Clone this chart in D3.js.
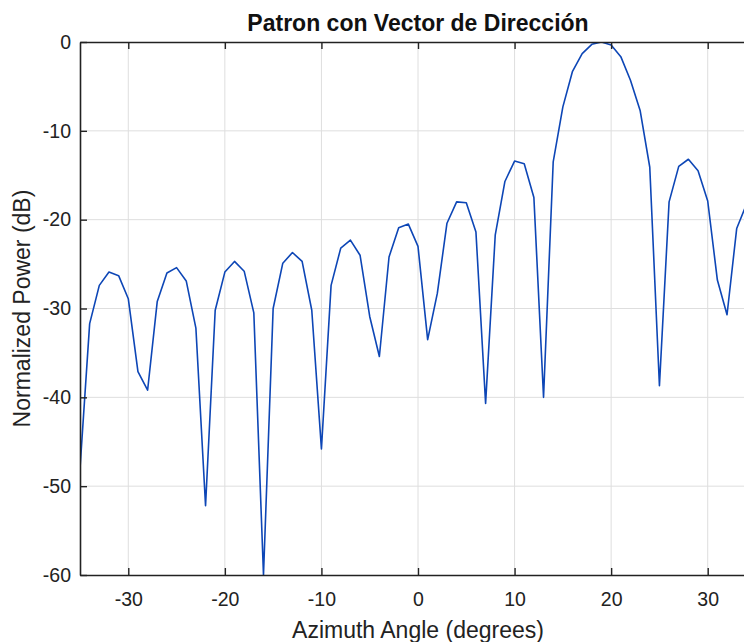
<!DOCTYPE html>
<html>
<head>
<meta charset="utf-8">
<script src="https://cdn.jsdelivr.net/npm/d3@7"></script>
<style>
  body { margin: 0; background: #fff; }
  svg { display: block; font-family: "Liberation Sans", Arial, sans-serif; }
</style>
</head>
<body>
<div id="chart"></div>
<script>
// angulos en grados (paso de 1)
const angulos = d3.range(-35, 36);
// potencia normalizada (dB)
const potencia = [
  -48.0, -31.7, -27.4, -25.9, -26.3, -28.9, -37.1, -39.2, -29.2, -26.0,
  -25.4, -26.9, -32.2, -52.2, -30.2, -25.9, -24.7, -25.8, -30.5, -60.0,
  -30.0, -24.9, -23.7, -24.7, -30.2, -45.8, -27.4, -23.2, -22.3, -24.0,
  -30.9, -35.4, -24.2, -20.9, -20.5, -23.0, -33.5, -28.3, -20.4, -18.0,
  -18.1, -21.4, -40.7, -21.7, -15.7, -13.4, -13.7, -17.5, -40.0, -13.5,
  -7.3, -3.3, -1.3, -0.26, 0.0, -0.34, -1.65, -4.3, -7.7, -14.1,
  -38.7, -18.0, -14.0, -13.2, -14.5, -17.9, -26.8, -30.7, -21.0, -18.3,
  -16.8
];
const xTicks = [-30, -20, -10, 0, 10, 20, 30];
const yTicks = [0, -10, -20, -30, -40, -50, -60];

const width = 744, height = 642;
const margin = { top: 42, left: 80, bottom: 67, right: -12 };
const innerW = width - margin.left - margin.right;
const innerH = height - margin.top - margin.bottom;

const svg = d3.select('#chart').append('svg')
  .attr('width', width)
  .attr('height', height);

const x = d3.scaleLinear().domain([-35, 35]).range([margin.left, margin.left + innerW]);
const y = d3.scaleLinear().domain([-60, 0]).range([margin.top + innerH, margin.top]);

// con guion normal, como en la figura
const fmt = d => String(d);

// grid
svg.append('g').selectAll('line')
  .data(xTicks).join('line')
  .attr('x1', d => x(d)).attr('x2', d => x(d))
  .attr('y1', margin.top).attr('y2', margin.top + innerH)
  .attr('stroke', '#dedede').attr('stroke-width', 1);
svg.append('g').selectAll('line')
  .data(yTicks.slice(1, -1)).join('line')
  .attr('x1', margin.left).attr('x2', margin.left + innerW)
  .attr('y1', d => y(d)).attr('y2', d => y(d))
  .attr('stroke', '#dedede').attr('stroke-width', 1);

// curva
const clipId = 'clipPlot';
svg.append('clipPath').attr('id', clipId).append('rect')
  .attr('x', margin.left).attr('y', margin.top)
  .attr('width', innerW).attr('height', innerH);

const line = d3.line()
  .x((d, i) => x(angulos[i]))
  .y(d => y(d));

svg.append('path')
  .datum(potencia)
  .attr('clip-path', `url(#${clipId})`)
  .attr('fill', 'none')
  .attr('stroke', '#0d46b6')
  .attr('stroke-width', 1.6)
  .attr('stroke-linejoin', 'round')
  .attr('d', line);

// ejes (ticks hacia dentro)
const axisBottom = d3.axisBottom(x).tickValues(xTicks).tickSizeInner(-7).tickSizeOuter(0).tickFormat(fmt);
const axisTop = d3.axisTop(x).tickValues(xTicks).tickSizeInner(-7).tickSizeOuter(0).tickFormat('');
const axisLeft = d3.axisLeft(y).tickValues(yTicks).tickSizeInner(-7).tickSizeOuter(0).tickPadding(9).tickFormat(fmt);

const gB = svg.append('g').attr('transform', `translate(0,${margin.top + innerH})`).call(axisBottom);
const gT = svg.append('g').attr('transform', `translate(0,${margin.top})`).call(axisTop);
const gL = svg.append('g').attr('transform', `translate(${margin.left},0)`).call(axisLeft);

[gB, gT, gL].forEach(g => {
  g.select('.domain').attr('stroke', '#222').attr('stroke-width', 1.6);
  g.selectAll('.tick line').attr('stroke', '#222').attr('stroke-width', 1.4);
  g.selectAll('.tick text').attr('fill', '#222').style('font-size', '19.5px').style('font-family', '"Liberation Sans", Arial, sans-serif');
});
gB.selectAll('.tick text').attr('y', 31).attr('dy', 0);

// titulo y etiquetas
svg.append('text')
  .attr('x', (margin.left + margin.left + innerW) / 2)
  .attr('y', 31)
  .attr('text-anchor', 'middle')
  .style('font-size', '23px')
  .style('font-weight', 'bold')
  .attr('fill', '#111')
  .text('Patron con Vector de Dirección');

svg.append('text')
  .attr('x', (margin.left + margin.left + innerW) / 2)
  .attr('y', 638)
  .attr('text-anchor', 'middle')
  .style('font-size', '23px')
  .attr('fill', '#222')
  .text('Azimuth Angle (degrees)');

svg.append('text')
  .attr('transform', `translate(30,${margin.top + innerH / 2}) rotate(-90)`)
  .attr('text-anchor', 'middle')
  .style('font-size', '23px')
  .attr('fill', '#222')
  .text('Normalized Power (dB)');
</script>
</body>
</html>
